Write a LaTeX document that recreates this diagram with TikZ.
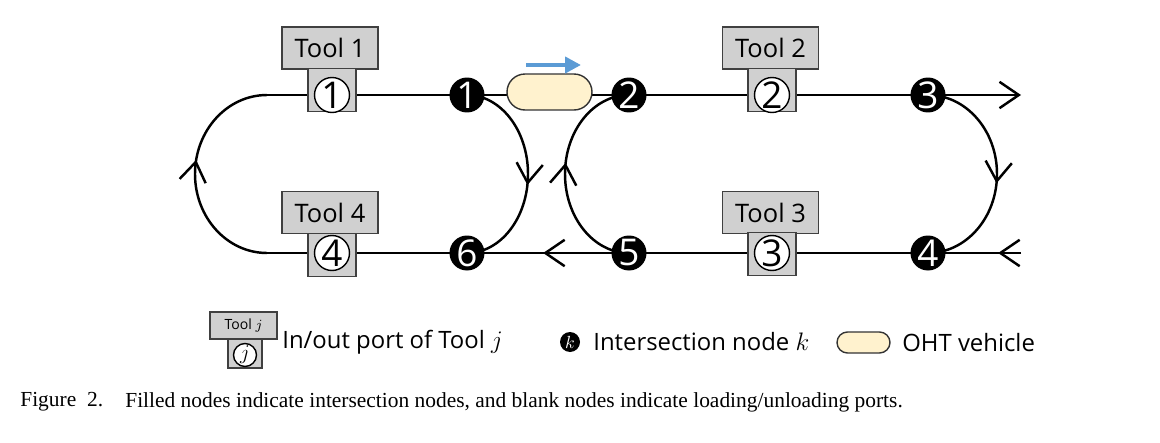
\documentclass[tikz,border=0pt]{standalone}
\usepackage{fontspec}
\setmainfont{Open Sans}
\newfontfamily\capfont{Liberation Serif}
\usetikzlibrary{arrows.meta,shapes.misc,decorations.markings}
\pgfdeclarelayer{bg}
\pgfsetlayers{bg,main}
\definecolor{toolgray}{RGB}{208,208,208}
\definecolor{vehcol}{RGB}{255,242,206}
\definecolor{bluearr}{RGB}{91,155,213}
\begin{document}
\begin{tikzpicture}[x=0.02cm,y=0.02cm,
  track/.style={line width=1.4pt, black},
  chev/.style={decoration={markings, mark=at position #1 with {\arrow{Straight Barb[length=11pt,width=15pt,line width=1.4pt]}}}, postaction={decorate}},
  toolbox/.style={draw=black!75, line width=0.8pt, fill=toolgray, minimum width=1.92cm, minimum height=0.84cm, inner sep=0pt, font=\fontsize{14.5}{16}\selectfont},
  portbox/.style={draw=black!75, line width=0.8pt, fill=toolgray, minimum width=0.96cm, minimum height=0.86cm, inner sep=0pt},
  portcirc/.style={circle, draw=black, line width=0.8pt, fill=white, minimum size=0.7cm, inner sep=0pt, font=\fontsize{21}{21}\selectfont},
  inode/.style={circle, fill=black, text=white, minimum size=0.7cm, inner sep=0pt, font=\fontsize{21}{21}\selectfont},
  vehicle/.style={rounded rectangle, draw=black!80, line width=0.8pt, fill=vehcol, minimum width=1.7cm, minimum height=0.72cm, inner sep=0pt},
  txt/.style={anchor=west, inner sep=0pt, font=\fontsize{13.6}{16}\selectfont}
]
\useasboundingbox (0,0) rectangle (1160,-443);

% tool boxes
\node[toolbox] (t1) at (330,-48) {Tool 1};
\node[portbox] (p1) at (332,-90) {};
\node[portcirc] (c1) at (332,-95) {1};
\node[toolbox] (t2) at (770.5,-48) {Tool 2};
\node[portbox] (p2) at (772,-90) {};
\node[portcirc] (c2) at (772,-95) {2};
\node[toolbox] (t4) at (330,-212.5) {Tool 4};
\node[portbox] (p4) at (332,-255) {};
\node[portcirc] (c4) at (332,-253) {4};
\node[toolbox] (t3) at (770.5,-212.5) {Tool 3};
\node[portbox] (p3) at (772,-254) {};
\node[portcirc] (c3) at (772,-253) {3};

% intersection nodes
\node[inode] (n1) at (467,-95) {1};
\node[inode] (n2) at (629,-95) {2};
\node[inode] (n3) at (928,-95) {3};
\node[inode] (n4) at (928,-253) {4};
\node[inode] (n5) at (629,-253) {5};
\node[inode] (n6) at (467,-253) {6};

% vehicle
\node[vehicle] (v) at (549.5,-92) {};
\coordinate (ba) at (526,-65);
\coordinate (bb) at (581,-65);
\draw[bluearr, line width=2.8pt, -{Triangle[length=9pt,width=9pt]}] (ba) -- (bb);

% free ends
\coordinate (L1) at (267,-95);
\coordinate (L4) at (267,-253);
\coordinate (E3) at (1021,-95);
\coordinate (E4) at (1021,-253);

\begin{pgfonlayer}{bg}
\draw[track] (L1) -- (n1.center);
\draw[track] (n1.center) -- (n2.center);
\draw[track] (n2.center) -- (n3.center);
\draw[track, -{Straight Barb[length=11pt,width=15pt]}] (n3.center) -- (E3);
\draw[track, chev=13pt] (E4) -- (n4.center);
\draw[track] (n4.center) -- (n5.center);
\draw[track, chev=0.53] (n5.center) -- (n6.center);
\draw[track] (n6.center) -- (L4);
\draw[track, chev=0.56] (L4) arc[start angle=270, end angle=90, x radius=72, y radius=79];
\draw[track, chev=0.55] (n1.center) arc[start angle=90, end angle=-90, x radius=61, y radius=79];
\draw[track, chev=0.55] (n5.center) arc[start angle=270, end angle=90, x radius=64, y radius=79];
\draw[track, chev=0.54] (n3.center) arc[start angle=90, end angle=-90, x radius=69, y radius=79];
\end{pgfonlayer}

% legend
\node[toolbox, minimum width=1.34cm, minimum height=0.54cm, font=\fontsize{8}{9}\selectfont] (lt) at (243.5,-325.5) {Tool $j$};
\node[portbox, minimum width=0.68cm, minimum height=0.58cm] (lp) at (245,-353.5) {};
\node[portcirc, minimum size=0.46cm, font=\fontsize{12}{12}\selectfont] (lc) at (245,-355) {$j$};
\node[txt] (ltx) at (282,-342) {In/out port of Tool $j$};
\node[inode, minimum size=0.4cm, font=\fontsize{10}{10}\selectfont] (lk) at (570,-342) {$k$};
\node[txt] (lkx) at (593,-342) {Intersection node $k$};
\node[vehicle, minimum width=1.06cm, minimum height=0.42cm] (lv) at (863.5,-342.5) {};
\node[txt] (lvx) at (902,-343) {OHT vehicle};

% caption
\node[anchor=west, inner sep=0pt, font=\capfont\fontsize{12.2}{14}\selectfont] (cap1) at (20,-402) {Figure\ \ 2.};
\node[anchor=west, inner sep=0pt, font=\capfont\fontsize{12.2}{14}\selectfont] (cap2) at (125,-402) {Filled nodes indicate intersection nodes, and blank nodes indicate loading/unloading ports.};
\end{tikzpicture}
\end{document}
